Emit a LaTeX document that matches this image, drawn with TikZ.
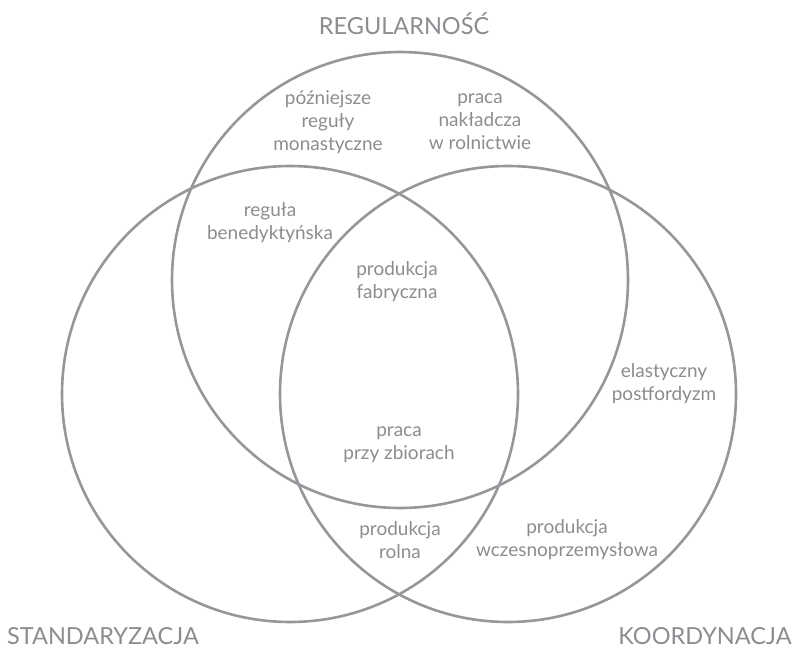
\documentclass[tikz,border=0pt]{standalone}
\usepackage{fontspec}
\setmainfont{Lato}
\definecolor{ring}{RGB}{150,150,155}
\definecolor{ink}{RGB}{140,140,145}
\tikzset{every picture/.style = {x=1pt, y=-1pt}}
\tikzset{ring/.style = {draw=ring, line width=2.6pt}}
\tikzset{lbl/.style = {text=ink, align=center, font=\fontsize{19}{23}\selectfont}}
\tikzset{title/.style = {text=ink, font=\fontsize{23.5}{26}\selectfont}}

\begin{document}
\begin{tikzpicture}
  \useasboundingbox (0, 0) rectangle (794, 650);
  \coordinate (reg) at (400, 280);
  \coordinate (std) at (290, 394);
  \coordinate (koo) at (508, 394);
  \draw[ring] (reg) circle[radius=228pt];
  \draw[ring] (std) circle[radius=228pt];
  \draw[ring] (koo) circle[radius=228pt];
  % names of the three sets
  \node[title] (tReg) at (404, 24) {REGULARNOŚĆ};
  \node[title] (tStd) at (103, 636) {STANDARYZACJA};
  \node[title] (tKoo) at (705, 636) {KOORDYNACJA};
  % the regions
  \node[lbl] (mon) at (328, 122) {późniejsze\\reguły\\monastyczne};
  \node[lbl] (nak) at (480, 122) {praca\\nakładcza\\w rolnictwie};
  \node[lbl] (ben) at (270, 223) {reguła\\benedyktyńska};
  \node[lbl] (fab) at (397, 282) {produkcja\\fabryczna};
  \node[lbl] (pfd) at (664, 384) {elastyczny\\postfordyzm};
  \node[lbl] (zbi) at (399, 445) {praca\\przy zbiorach};
  \node[lbl] (rol) at (400, 540) {produkcja\\rolna};
  \node[lbl] (wcz) at (567, 540) {produkcja\\wczesnoprzemysłowa};
\end{tikzpicture}
\end{document}
